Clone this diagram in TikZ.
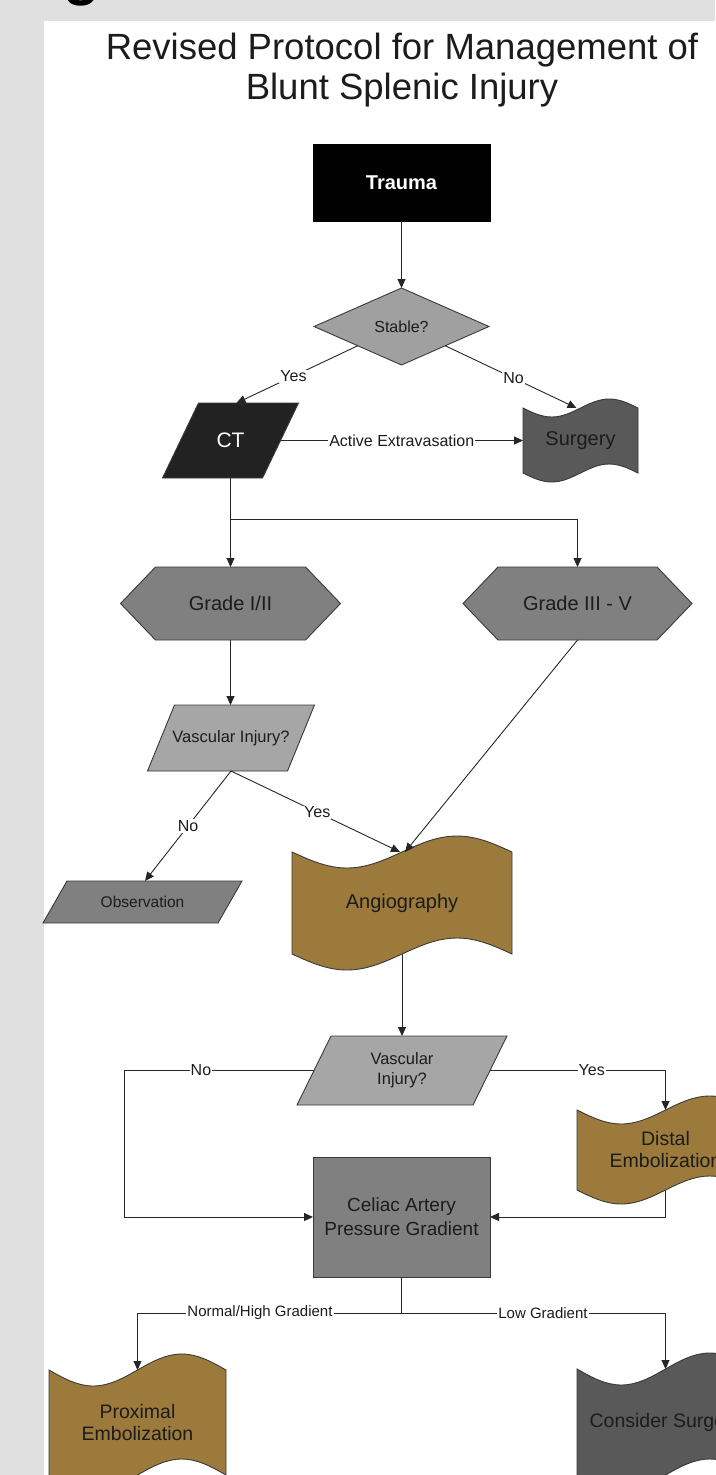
\documentclass[tikz,border=0pt]{standalone}
\usepackage{fontspec}
\setmainfont{Liberation Sans}
\usetikzlibrary{arrows.meta,calc}
\definecolor{bggray}{HTML}{E0E0E0}
\definecolor{stablefill}{HTML}{A0A0A0}
\definecolor{ctfill}{HTML}{222222}
\definecolor{darkfill}{HTML}{595959}
\definecolor{midfill}{HTML}{808080}
\definecolor{lightfill}{HTML}{A6A6A6}
\definecolor{goldfill}{HTML}{9C7A3C}
\definecolor{edgecol}{HTML}{3A3A3A}
\definecolor{txtcol}{HTML}{1C1C1C}
\definecolor{linecol}{HTML}{262626}

\newcommand\fsz[2]{\fontsize{#1pt}{#2pt}\selectfont}

\tikzset{
  shapeline/.style={draw=edgecol, line width=0.9pt},
  box/.style={inner sep=0pt, outer sep=0pt, align=center, text=txtcol},
  conn/.style={draw=linecol, line width=0.9pt},
  arrow/.style={conn, -{Triangle[length=9pt,width=8pt]}},
  lbl/.style={fill=white, inner sep=1pt, text=txtcol, font=\fsz{16}{18}},
  lbltwo/.style={fill=white, inner sep=1pt, text=txtcol, font=\fsz{15}{18}},
}

% tape (wavy) shape: name, x0, x1, ytop, ybottom, amplitude, fill, font, text
\newcommand\tapenode[9]{%
  \path[shapeline, fill=#7] (#2,#4) sin ({#2+(#3-#2)/4},{#4+#6}) cos ({(#2+#3)/2},#4)
     sin ({#2+3*(#3-#2)/4},{#4-#6}) cos (#3,#4) -- (#3,#5)
     sin ({#2+3*(#3-#2)/4},{#5-#6}) cos ({(#2+#3)/2},#5)
     sin ({#2+(#3-#2)/4},{#5+#6}) cos (#2,#5) -- cycle;
  \node[box, font={#8}, minimum width={#3-#2}, minimum height={#5-#4}] (#1)
     at ({(#2+#3)/2},{(#4+#5)/2}) {#9};}

% parallelogram: name, cx, cy, edge width, height, slant, fill, node options, text
\newcommand\paranode[9]{%
  \path[shapeline, fill=#7] ({#2-#4/2+#6/2},{#3-#5/2}) -- ({#2+#4/2+#6/2},{#3-#5/2})
     -- ({#2+#4/2-#6/2},{#3+#5/2}) -- ({#2-#4/2-#6/2},{#3+#5/2}) -- cycle;
  \node[box, #8, minimum width=#4, minimum height=#5] (#1) at (#2,#3) {#9};}

% hexagon: name, x0, x1, ytop, ybottom, inset, text
\newcommand\hexnode[7]{%
  \path[shapeline, fill=midfill] (#2,{(#4+#5)/2}) -- ({#2+#6},#4) -- ({#3-#6},#4)
     -- (#3,{(#4+#5)/2}) -- ({#3-#6},#5) -- ({#2+#6},#5) -- cycle;
  \node[box, font=\fsz{20}{24}, minimum width={#3-#2}, minimum height={#5-#4}] (#1)
     at ({(#2+#3)/2},{(#4+#5)/2}) {#7};}

\begin{document}
\begin{tikzpicture}[x=1pt,y=-1pt]
\useasboundingbox (0,0) rectangle (715,1475);
\fill[bggray] (0,0) rectangle (715,1475);
\fill[white] (44,21) rectangle (715,1475);

% cropped letter fragment at the top edge
\node[anchor=base, inner sep=0pt, font=\bfseries\fsz{60}{60}, text=black] (frag) at (82,-6.5) {g};

% title
\node[anchor=base, inner sep=0pt, font=\fsz{36.5}{40}, text=txtcol] (t1) at (402,59) {Revised Protocol for Management of};
\node[anchor=base, inner sep=0pt, font=\fsz{36.5}{40}, text=txtcol] (t2) at (402,99) {Blunt Splenic Injury};

% nodes
\node[box, fill=black, draw=black, line width=0.9pt, minimum width=177, minimum height=77,
      font=\bfseries\fsz{20}{24}, text=white] (trauma) at (401.5,182.5) {Trauma};

\path[shapeline, fill=stablefill] (314,326.5) -- (401.5,288) -- (489,326.5) -- (401.5,365) -- cycle;
\node[box, minimum width=175, minimum height=77, font=\fsz{16}{19}] (stable) at (401.5,326.5) {Stable?};

\paranode{ct}{230.5}{440.5}{100}{75}{36}{ctfill}{font=\fsz{21}{24}, text=white}{CT}
\tapenode{surg}{523}{638}{408}{473}{9}{darkfill}{\fsz{20}{24}}{Surgery}

\hexnode{g1}{120.5}{340.5}{567}{640}{35}{Grade I/II}
\hexnode{g2}{463}{692}{567}{640}{35}{Grade III - V}

\paranode{v1}{231}{738}{140}{66}{27}{lightfill}{font=\fsz{16.5}{19}}{Vascular Injury?}
\paranode{obs}{142.5}{902}{175}{42}{24}{midfill}{font=\fsz{15.5}{18}}{Observation}

\tapenode{angio}{292}{512}{852}{954}{16}{goldfill}{\fsz{20}{24}}{Angiography}

\paranode{v2}{402}{1070.5}{176}{69}{34}{lightfill}{font=\fsz{16.5}{20}}{Vascular\\Injury?}

\tapenode{distal}{577}{754}{1110}{1190}{14}{goldfill}{\fsz{19.5}{22}}{Distal\\Embolization}

\node[box, shapeline, fill=midfill, minimum width=177, minimum height=120,
      font=\fsz{19}{24}] (celiac) at (401.5,1217) {Celiac Artery\\Pressure Gradient};

\tapenode{prox}{49}{226}{1370}{1475}{16}{goldfill}{\fsz{19.5}{22}}{Proximal\\Embolization}
\tapenode{cons}{577}{754}{1369}{1475}{16}{darkfill}{\fsz{19.5}{24}}{Consider Surgery}

% connectors
\draw[arrow] (trauma.south) -- (stable.north);
\draw[arrow] ($(stable.west)!0.5!(stable.south)$) -- node[lbl,pos=0.53]{Yes} ([xshift=6pt]ct.north);
\draw[arrow] ($(stable.east)!0.5!(stable.south)$) -- node[lbl,pos=0.52]{No} ([xshift=-4pt]surg.north);
\draw[arrow] (ct.east) -- node[lbl]{Active Extravasation} (surg.west);

\coordinate (brY) at (0,519);
\draw[arrow] (ct.south) -- (g1.north);
\draw[arrow] (ct.south |- brY) -| (g2.north);

\draw[arrow] (g1.south) -- (g1.south |- v1.north);
\draw[arrow] (v1.south) -- node[lbl,pos=0.5]{No} ([xshift=2.5pt]obs.north);
\draw[arrow] (v1.south) -- node[lbl,pos=0.51]{Yes} ([xshift=-2pt]angio.north);
\draw[arrow] (g2.south) -- ([xshift=3pt]angio.north);

\draw[arrow] (angio.south) -- (angio.south |- v2.north);
\coordinate (noX) at (124,0);
\draw[arrow] (v2.west) -- node[lbl,pos=0.595]{No} (v2.west -| noX) |- (celiac.west);
\draw[arrow] (v2.east) -- node[lbl,pos=0.58]{Yes} (v2.east -| distal.north) -- (distal.north);
\draw[arrow] (distal.south) |- (celiac.east);

\coordinate (gY) at (0,1313);
\draw[conn] (celiac.south) -- (celiac.south |- gY);
\draw[arrow] (celiac.south |- gY) -| node[lbltwo,pos=0.268]{Normal/High Gradient} (prox.north);
\draw[arrow] (celiac.south |- gY) -| node[lbltwo,pos=0.268]{Low Gradient} (cons.north);
\end{tikzpicture}
\end{document}
